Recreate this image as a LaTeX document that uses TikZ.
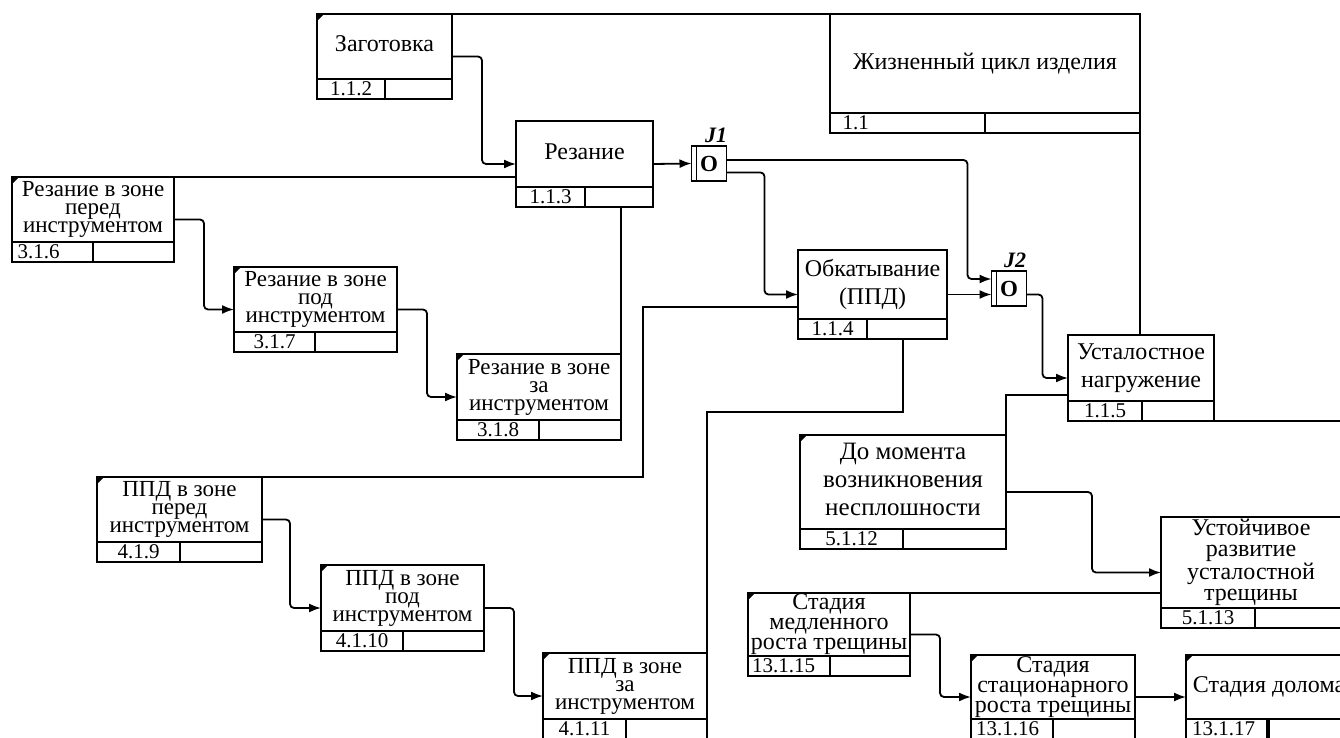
\documentclass[tikz,border=0pt]{standalone}
\usepackage{fontspec}
\setmainfont{Liberation Serif}
\usetikzlibrary{arrows.meta}

\begin{document}
\begin{tikzpicture}[x=1pt, y=-1pt,
box/.style = {draw, line width=1.8pt, outer sep=0pt, inner sep=0pt,
	align=center, text depth=25pt},
sz/.style 2 args = {minimum width=#1pt, minimum height=#2pt},
idc/.style = {draw, line width=1.8pt, outer sep=0pt, inner sep=0pt,
	minimum height=20pt, font=\fontsize{21}{21}\selectfont},
uob/.style n args = {3}{box,
	label={[idc, anchor=south west, minimum width=#2pt]south west:#1},
	label={[idc, anchor=south east, minimum width=#3pt]south east:{}}},
ref/.style = {path picture={\fill (path picture bounding box.north west)
	-- ([xshift=7pt]path picture bounding box.north west)
	-- ([yshift=-7pt]path picture bounding box.north west) -- cycle;}},
big/.style = {font=\fontsize{24}{28}\selectfont},
sub/.style = {font=\fontsize{23}{18}\selectfont},
low/.style = {font=\fontsize{24}{20}\selectfont},
junc/.style = {draw, line width=1.8pt, outer sep=0pt, inner sep=0pt,
	minimum width=35pt, minimum height=35pt,
	font=\fontsize{23}{24}\selectfont\bfseries,
	path picture={\draw[line width=1.4pt]
	([xshift=5pt]path picture bounding box.north west) --
	([xshift=5pt]path picture bounding box.south west);}},
jlab/.style = {font=\fontsize{22}{24}\selectfont\bfseries\itshape},
flow/.style = {line width=1.8pt, rounded corners=4pt,
	-{Latex[length=12pt,width=9pt]}},
link/.style = {line width=1.1pt}]

\useasboundingbox (0,0) rectangle (1340,738);
\clip (0,0) rectangle (1340,738);

% level 1
\node (zag) [uob={1.1.2}{68}{67}, sz={135}{85}, ref, big] at (384.5,56.5) {Заготовка};
\node (rez) [uob={1.1.3}{69}{68}, sz={137}{86}, big] at (584.5,164) {Резание};
\node (lc) [uob={\makebox[146pt][l]{\hspace{8pt}1.1}}{155}{155}, sz={310}{119}, big] at (985,73.5) {Жизненный цикл изделия};
\node (obk) [uob={1.1.4}{69}{80}, sz={149}{89}, big] at (872.5,294.5) {Обкатывание\\(ППД)};
\node (ust) [uob={1.1.5}{74}{72}, sz={146}{86}, big] at (1141,378) {Усталостное\\нагружение};

\node (j1) [junc, label={[jlab, xshift=7pt]above:J1}] at (709,163.5) {O};
\node (j2) [junc, label={[jlab, xshift=6pt]above:J2}] at (1009,288.5) {O};

% decomposition of cutting and rolling
\node (r1) [uob={\makebox[76pt][l]{\hspace{3pt}3.1.6}}{81}{81}, sz={162}{85}, ref, sub] at (93,219.5) {Резание в зоне\\перед\\инструментом};
\node (r2) [uob={3.1.7}{81}{82}, sz={163}{85}, ref, sub] at (315.5,309.5) {Резание в зоне\\под\\инструментом};
\node (r3) [uob={3.1.8}{82}{82}, sz={164}{86}, ref, sub] at (539,397) {Резание в зоне\\за\\инструментом};
\node (p1) [uob={4.1.9}{83}{82}, sz={165}{85}, ref, sub] at (179.5,519.5) {ППД в зоне\\перед\\инструментом};
\node (p2) [uob={4.1.10}{82}{81}, sz={163}{86}, ref, sub] at (402.5,608) {ППД в зоне\\под\\инструментом};
\node (p3) [uob={4.1.11}{83}{81}, sz={164}{86}, ref, sub] at (625,696) {ППД в зоне\\за\\инструментом};

% decomposition of fatigue loading
\node (d) [uob={5.1.12}{103}{103}, sz={206}{114}, ref, font=\fontsize{25}{28}\selectfont] at (903,492) {До момента\\возникновения\\несплошности};
\node (s13) [uob={5.1.13}{94}{86}, sz={180}{111}, font=\fontsize{24}{21}\selectfont] at (1251,572.5) {Устойчивое\\развитие\\усталостной\\трещины};
\node (s15) [uob={\makebox[78pt][l]{\hspace{2pt}13.1.15}}{82}{80}, sz={162}{83}, ref, low] at (829,634.5) {Стадия\\медленного\\роста трещины};
\node (s16) [uob={\makebox[78pt][l]{\hspace{3pt}13.1.16}}{82}{82}, sz={164}{84}, ref, low] at (1053,697) {Стадия\\стационарного\\роста трещины};
\node (s17) [uob={\makebox[77pt][l]{\hspace{4pt}13.1.17}}{81}{83}, sz={166}{84}, ref, low] at (1269,697) {Стадия долома};

% precedence links
\draw[flow] (zag.east) -- ++(30,0) |- (rez.west);
\draw[flow] (rez.east) -- (j1.west);
\draw[flow] ([yshift=3.5pt]j1.east) -- ++(241,0) |- ([yshift=9.5pt]j2.west);
\draw[flow] ([yshift=-9pt]j1.east) -- ++(38,0) |- (obk.west);
\draw[flow] (obk.east) -- (obk.east -| j2.west);
\draw[flow] (obk.east -| j2.east) -- ++(16,0) |- (ust.west);
\draw[flow] (r1.east) -- ++(30,0) |- (r2.west);
\draw[flow] (r2.east) -- ++(30,0) |- (r3.west);
\draw[flow] (p1.east) -- ++(28,0) |- (p2.west);
\draw[flow] (p2.east) -- ++(30,0) |- (p3.west);
\draw[flow] (d.east) -- ++(86,0) |- (s13.west);
\draw[flow] (s15.east) -- ++(30,0) |- (s16.west);
\draw[flow] (s16.east) -- (s17.west);

% decomposition brackets
\draw[link] (zag.north east) -- (lc.north west);
\draw[link] (lc.south east) -- (lc.south east |- ust.north);
\draw[link] (r1.north east) -- (r1.north east -| rez.west);
\draw[link] (r3.north east) -- (r3.north east |- rez.south);
\draw[link] (p1.north east) -- ++(381,0) |- ([yshift=-12.5pt]obk.west);
\draw[link] (p3.north east) -- ++(0,-241) -| ([xshift=30.5pt]obk.south);
\draw[link] (d.north east) |- ([yshift=-17pt]ust.west);
\draw[link] (ust.south east) -- ++(140,0);
\draw[link] (s15.north east) -- (s15.north east -| s13.west);
\end{tikzpicture}
\end{document}
